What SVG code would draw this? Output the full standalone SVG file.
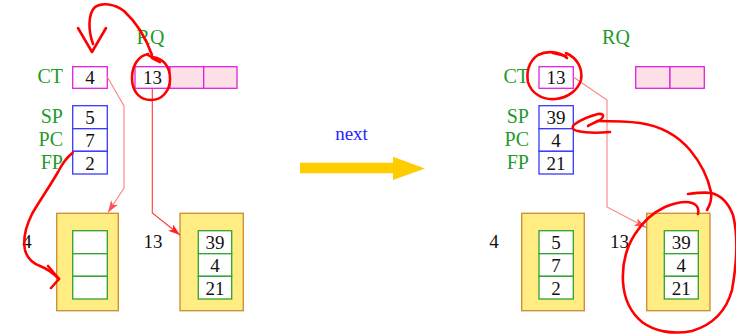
<svg xmlns="http://www.w3.org/2000/svg" width="736" height="334" viewBox="0 0 736 334">
<defs>
<style>
text{font-family:"Liberation Serif","DejaVu Serif",serif;}
.lbl{fill:#1f9a2a;font-size:20px;text-anchor:end;}
.rq{fill:#1f9a2a;font-size:20px;text-anchor:middle;}
.num{fill:#111;font-size:19px;text-anchor:middle;}
.mag{fill:#fff;stroke:#dd22dd;stroke-width:1.3;}
.magp{fill:#fde0e6;stroke:#dd22dd;stroke-width:1.3;}
.blu{fill:#fff;stroke:#3838ff;stroke-width:1.3;}
.yel{fill:#ffec82;stroke:#cc8a30;stroke-width:1.3;}
.grn{fill:#fff;stroke:#2fa22f;stroke-width:1.3;}
.c1{fill:none;stroke:#ff8080;stroke-width:1.1;}
.c2{fill:none;stroke:#ff3a3a;stroke-width:1.1;}
.ann{fill:none;stroke:#ff0000;stroke-width:2.6;stroke-linecap:round;stroke-linejoin:round;}
</style>
<marker id="ah1" viewBox="0 0 12 8" refX="12" refY="4" markerWidth="12" markerHeight="8" markerUnits="userSpaceOnUse" orient="auto"><path d="M0,0 L12,4 L0,8 L3,4 Z" fill="#ff5050"/></marker>
<marker id="ah2" viewBox="0 0 12 8" refX="12" refY="4" markerWidth="12" markerHeight="8" markerUnits="userSpaceOnUse" orient="auto"><path d="M0,0 L12,4 L0,8 L3,4 Z" fill="#ff2020"/></marker>
</defs>
<rect width="736" height="334" fill="#fff"/>

<!-- LEFT STATE -->
<g id="rq-label-left"><text class="rq" x="150.5" y="44">RQ</text></g>
<g id="ct-left">
<text class="lbl" x="63" y="83">CT</text>
<rect class="mag" x="72.7" y="66.7" width="34.6" height="21.6"/>
<text class="num" x="90" y="84">4</text>
</g>
<g id="rq-left">
<rect class="mag" x="135" y="66.7" width="35" height="21.6"/>
<rect class="magp" x="170" y="66.7" width="33.7" height="21.6"/>
<rect class="magp" x="203.7" y="66.7" width="33.3" height="21.6"/>
<text class="num" x="152.5" y="84">13</text>
</g>
<g id="regs-left">
<text class="lbl" x="63" y="123">SP</text>
<text class="lbl" x="63" y="146">PC</text>
<text class="lbl" x="63" y="169">FP</text>
<rect class="blu" x="72.7" y="105.7" width="34.6" height="23"/>
<rect class="blu" x="72.7" y="128.7" width="34.6" height="22.6"/>
<rect class="blu" x="72.7" y="151.3" width="34.6" height="22.7"/>
<text class="num" x="90" y="124">5</text>
<text class="num" x="90" y="147">7</text>
<text class="num" x="90" y="170">2</text>
</g>
<g id="pcb4-left">
<text class="num" x="27" y="248">4</text>
<rect class="yel" x="56.7" y="213.3" width="61.6" height="97.4"/>
<rect class="grn" x="72.7" y="230.7" width="34.6" height="23"/>
<rect class="grn" x="72.7" y="253.7" width="34.6" height="22.6"/>
<rect class="grn" x="72.7" y="276.3" width="34.6" height="22.7"/>
</g>
<g id="pcb13-left">
<text class="num" x="153" y="248">13</text>
<rect class="yel" x="180" y="213.3" width="63.3" height="97.4"/>
<rect class="grn" x="198.3" y="230.7" width="33.4" height="23"/>
<rect class="grn" x="198.3" y="253.7" width="33.4" height="22.6"/>
<rect class="grn" x="198.3" y="276.3" width="33.4" height="22.7"/>
<text class="num" x="215" y="249">39</text>
<text class="num" x="215" y="272">4</text>
<text class="num" x="215" y="295">21</text>
</g>

<!-- MIDDLE -->
<g id="next">
<text x="351.5" y="140" style="fill:#2525ff;font-size:19px;text-anchor:middle">next</text>
<path d="M300,162.7 L393,162.7 L393,156.7 L425,168.5 L393,180 L393,173.3 L300,173.3 Z" fill="#ffcc00"/>
</g>

<!-- RIGHT STATE -->
<g id="rq-label-right"><text class="rq" x="616" y="44">RQ</text></g>
<g id="ct-right">
<text class="lbl" x="529" y="83">CT</text>
<rect class="mag" x="539" y="66.7" width="34.3" height="21.6"/>
<text class="num" x="556" y="84">13</text>
</g>
<g id="rq-right">
<rect class="magp" x="635.7" y="66.7" width="34.3" height="21.6"/>
<rect class="magp" x="670" y="66.7" width="34.3" height="21.6"/>
</g>
<g id="regs-right">
<text class="lbl" x="529" y="123">SP</text>
<text class="lbl" x="529" y="146">PC</text>
<text class="lbl" x="529" y="169">FP</text>
<rect class="blu" x="539" y="105.7" width="34.3" height="23"/>
<rect class="blu" x="539" y="128.7" width="34.3" height="22.6"/>
<rect class="blu" x="539" y="151.3" width="34.3" height="22.7"/>
<text class="num" x="556" y="124">39</text>
<text class="num" x="556" y="147">4</text>
<text class="num" x="556" y="170">21</text>
</g>
<g id="pcb4-right">
<text class="num" x="494" y="248">4</text>
<rect class="yel" x="521.7" y="213.3" width="62.6" height="97.4"/>
<rect class="grn" x="539" y="230.7" width="34.3" height="23"/>
<rect class="grn" x="539" y="253.7" width="34.3" height="22.6"/>
<rect class="grn" x="539" y="276.3" width="34.3" height="22.7"/>
<text class="num" x="556" y="249">5</text>
<text class="num" x="556" y="272">7</text>
<text class="num" x="556" y="295">2</text>
</g>
<g id="pcb13-right">
<text class="num" x="619.5" y="248">13</text>
<rect class="yel" x="646.7" y="213.3" width="63.3" height="97.4"/>
<rect class="grn" x="664.3" y="230.7" width="34" height="23"/>
<rect class="grn" x="664.3" y="253.7" width="34" height="22.6"/>
<rect class="grn" x="664.3" y="276.3" width="34" height="22.7"/>
<text class="num" x="681.3" y="249">39</text>
<text class="num" x="681.3" y="272">4</text>
<text class="num" x="681.3" y="295">21</text>
</g>

<!-- CONNECTORS -->
<g id="connectors">
<path class="c1" d="M107.3,77 L124,106 L124,188 L108,212.5" marker-end="url(#ah1)"/>
<path class="c2" d="M152.3,88.3 L152.3,213 L180,235" marker-end="url(#ah2)"/>
<path class="c1" d="M573.3,77 L607,100 L607,207 L646,227.5" marker-end="url(#ah1)"/>
</g>

<!-- HAND-DRAWN ANNOTATIONS -->
<g id="annotations">
<path class="ann" d="M78,28 L92,52 L106,28"/>
<path class="ann" d="M93,44 C88,30 88,14 95,7 C102,2 115,4 124,11 C136,22 146,38 152,55"/>
<path class="ann" d="M148,55 L160,62 L152,58"/>
<path class="ann" d="M148,54 C138,56 132,66 132,78 C132,92 140,100 151,100 C162,100 170,91 170,79 C170,66 163,58 152,57"/>
<path class="ann" d="M72.7,152.7 C66,158 62,164 58,172 C50,186 40,200 32,214 C26,226 23,240 25,250 C27,258 32,263 40,266 C48,269 54,274 59,279"/>
<path class="ann" d="M48,266 L59,279 L51,288"/>
<path class="ann" d="M567,58 C560,52 548,50 538,55 C529,61 526,72 528,82 C531,93 542,100 555,99 C568,98 578,90 581,80 C583,68 577,58 566,53"/>
<path class="ann" d="M553,53 L566,56"/>
<path class="ann" d="M610,132 C598,133 586,133 578,131 C571,130 572,126 575,124 C582,119 590,116 598,114 C606,113 604,119 596,122 C592,124 589,125 588,126"/>
<path class="ann" d="M597,121 C610,121 625,121 640,123 C660,126 678,136 690,150 C700,162 708,178 711,192 C712,198 710,205 707,210"/>
<path class="ann" d="M688,194 C696,193 704,192 711,193 C720,195 728,202 733,215 C738,235 737,262 732,290 C726,312 712,325 692,331 C672,335 654,331 642,322 C630,312 624,298 623,282 C622,265 626,248 635,234 C642,223 652,213 665,207 C675,203 686,201 692,203 C698,205 699,210 698,214"/>
</g>
</svg>
